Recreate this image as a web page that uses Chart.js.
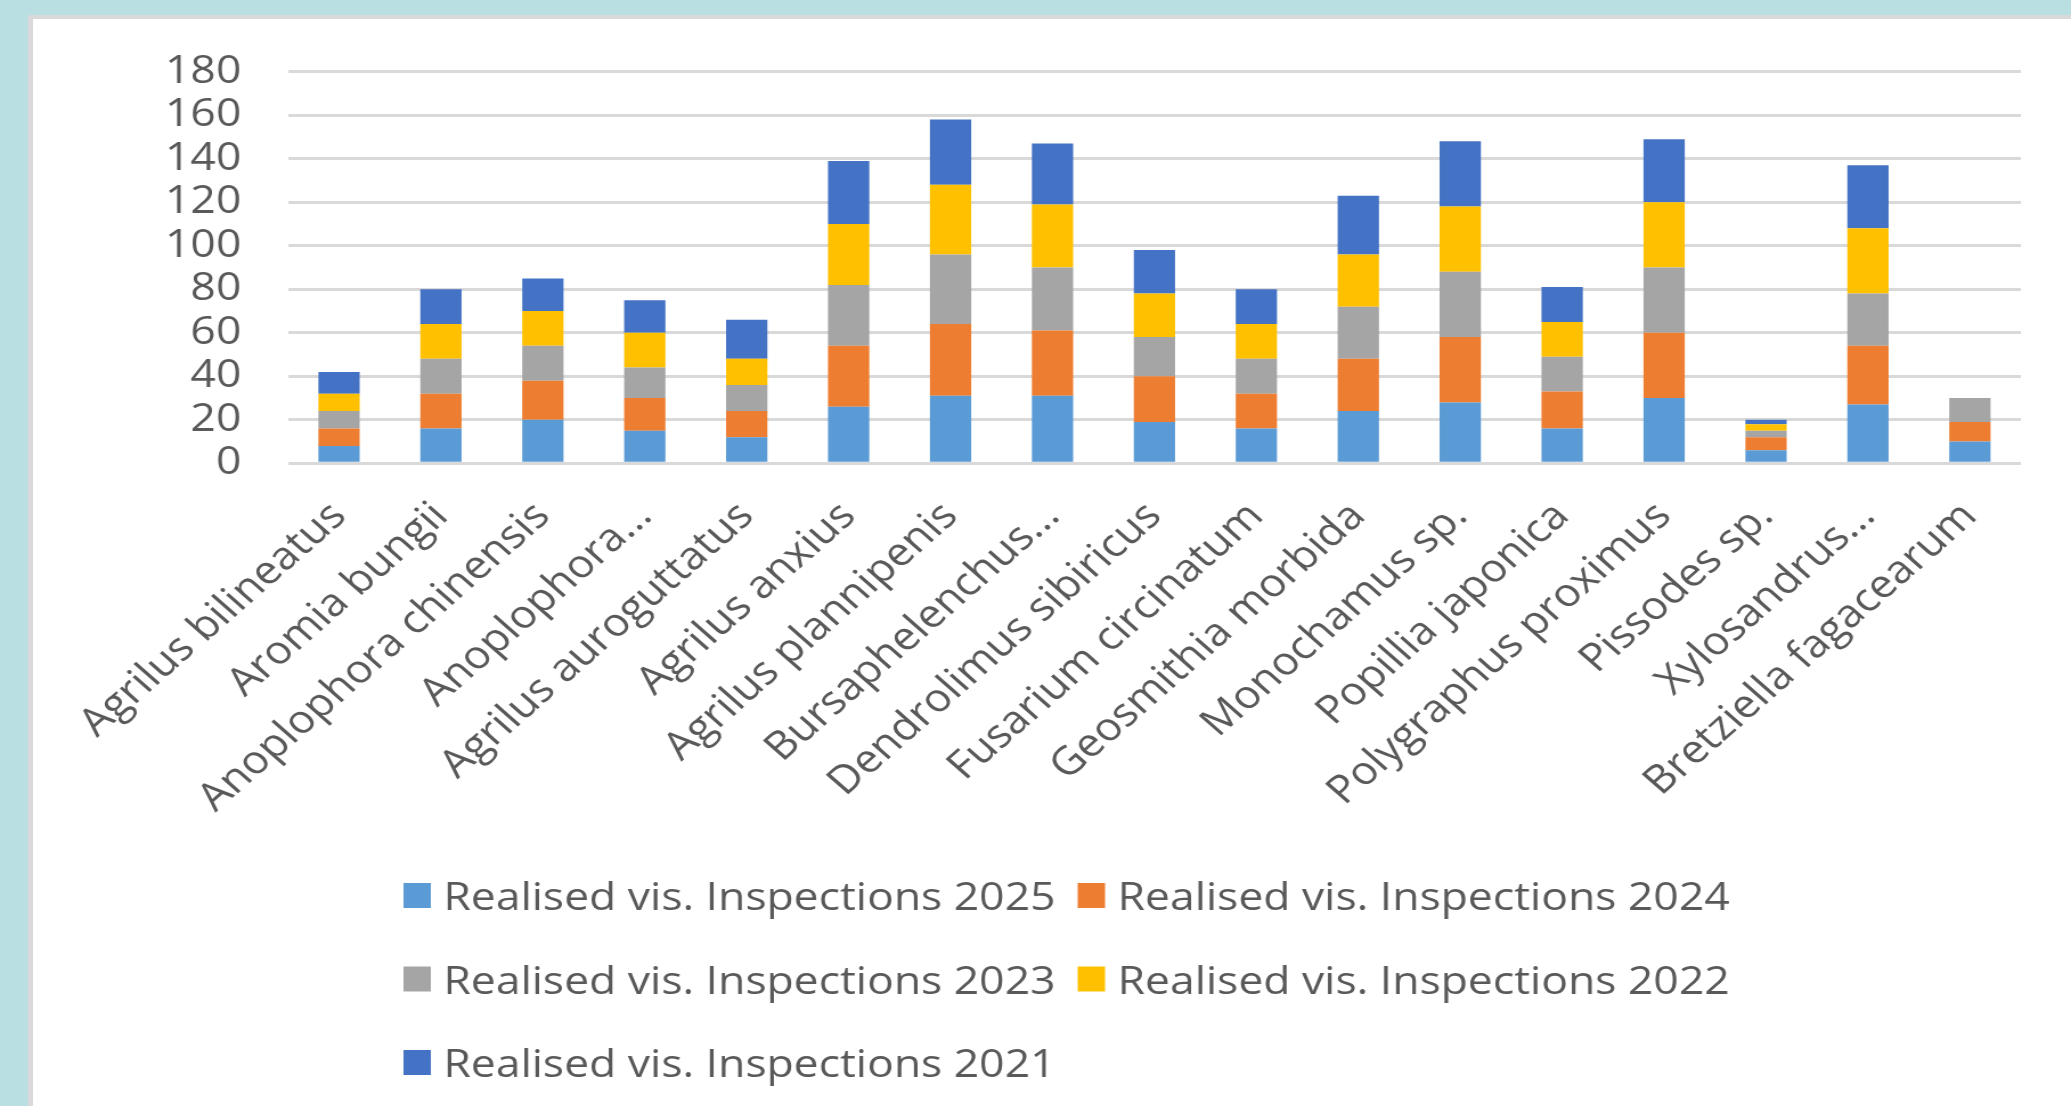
<!DOCTYPE html>
<html>
<head>
<meta charset="utf-8">
<script src="https://cdn.jsdelivr.net/npm/chart.js@4/dist/chart.umd.min.js"></script>
<style>
  html, body { margin: 0; padding: 0; width: 2071px; height: 1106px; overflow: hidden; background: #BADFE2; }
  #panel { position: absolute; left: 28px; top: 15px; right: 0; bottom: 0; background: #fff;
           border-left: 5px solid #D9D9D9; border-top: 4px solid #D9D9D9; }
  #wrap { position: absolute; left: 0; top: 0; width: 1817px; height: 1106px;
          transform: scaleX(1.13979); transform-origin: 0 0; }
  canvas { display: block; }
</style>
</head>
<body>
<div id="panel"></div>
<div id="wrap"><canvas id="c" width="1817" height="1106"></canvas></div>
<script>
// ---- data ----
const categories = [
  'Agrilus bilineatus', 'Aromia bungii', 'Anoplophora chinensis', 'Anoplophora...',
  'Agrilus auroguttatus', 'Agrilus anxius', 'Agrilus plannipenis', 'Bursaphelenchus...',
  'Dendrolimus sibiricus', 'Fusarium circinatum', 'Geosmithia morbida', 'Monochamus sp.',
  'Popillia japonica', 'Polygraphus proximus', 'Pissodes sp.', 'Xylosandrus...',
  'Bretziella fagacearum'
];
const seriesLabels = [
  'Realised vis. Inspections 2025', 'Realised vis. Inspections 2024',
  'Realised vis. Inspections 2023', 'Realised vis. Inspections 2022',
  'Realised vis. Inspections 2021'
];
const s2025 = [8, 16, 20, 15, 12, 26, 31, 31, 19, 16, 24, 28, 16, 30, 6, 27, 10];
const s2024 = [8, 16, 18, 15, 12, 28, 33, 30, 21, 16, 24, 30, 17, 30, 6, 27, 9];
const s2023 = [8, 16, 16, 14, 12, 28, 32, 29, 18, 16, 24, 30, 16, 30, 3, 24, 11];
const s2022 = [8, 16, 16, 16, 12, 28, 32, 29, 20, 16, 24, 30, 16, 30, 3, 30, null];
const s2021 = [10, 16, 15, 15, 18, 29, 30, 28, 20, 16, 27, 30, 16, 29, 2, 29, null];
const yTicks = [0, 20, 40, 60, 80, 100, 120, 140, 160, 180];

// ---- style ----
const colors = ['#5B9BD5', '#ED7D31', '#A5A5A5', '#FFC000', '#4472C4'];
const FONT = '"Open Sans", "DejaVu Sans", sans-serif';
const FS = 39;
const TXT = '#595959';

const legendPlugin = {
  id: 'excelLegend',
  afterDraw(chart) {
    const ctx = chart.ctx;
    ctx.save();
    ctx.font = FS + 'px ' + FONT;
    ctx.textBaseline = 'alphabetic';
    ctx.textAlign = 'left';
    const x0 = 354, colW = 591.5, y0 = 910, rowH = 83.5;
    chart.data.datasets.forEach((ds, i) => {
      const col = i % 2, row = Math.floor(i / 2);
      const x = x0 + col * colW, yb = y0 + row * rowH;
      ctx.fillStyle = ds.backgroundColor;
      ctx.fillRect(x, yb - 27, 24, 25);
      ctx.fillStyle = TXT;
      ctx.fillText(ds.label, x + 35, yb);
    });
    ctx.restore();
  }
};

function draw() {
  const seriesData = [s2025, s2024, s2023, s2022, s2021];
  new Chart(document.getElementById('c'), {
    type: 'bar',
    data: {
      labels: categories,
      datasets: seriesData.map((d, i) => ({
        label: seriesLabels[i],
        data: d,
        backgroundColor: colors[i],
        borderWidth: 0,
        categoryPercentage: 1,
        barPercentage: 0.405
      }))
    },
    options: {
      responsive: false,
      animation: false,
      layout: { padding: { top: 71.7, left: 0, right: 44, bottom: 0 } },
      plugins: { legend: { display: false }, tooltip: { enabled: false } },
      scales: {
        x: {
          stacked: true,
          grid: { display: false, drawTicks: false },
          border: { display: false },
          ticks: {
            autoSkip: false, minRotation: 45, maxRotation: 45, padding: 30,
            color: TXT, font: { family: FONT, size: FS }
          },
          afterFit: (s) => { s.height = 1106 - 463.3; }
        },
        y: {
          stacked: true,
          min: yTicks[0], max: yTicks[yTicks.length - 1],
          afterBuildTicks: (s) => { s.ticks = yTicks.map(v => ({ value: v })); },
          grid: { color: '#D9D9D9', lineWidth: 3, drawTicks: false },
          border: { display: false },
          ticks: { autoSkip: false, padding: 41, color: TXT, font: { family: FONT, size: FS, lineHeight: 1 } },
          afterFit: (s) => { s.width = 252.7; }
        }
      }
    },
    plugins: [legendPlugin]
  });
}
if (document.fonts && document.fonts.load) {
  document.fonts.load(FS + 'px "Open Sans"').then(draw, draw);
} else { draw(); }
</script>
</body>
</html>
